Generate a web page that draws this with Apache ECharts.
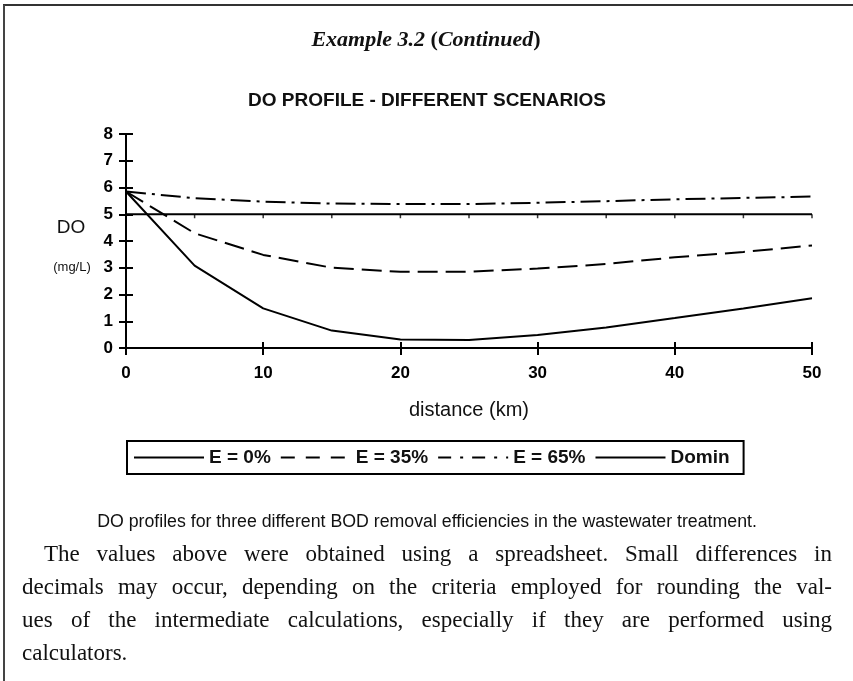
<!DOCTYPE html>
<html>
<head>
<meta charset="utf-8">
<script src="https://cdn.jsdelivr.net/npm/echarts@6/dist/echarts.min.js"></script>
<style>
  html, body { margin: 0; padding: 0; background: #fff; }
  #chart { width: 853px; height: 681px; }
</style>
</head>
<body>
<div id="chart"></div>
<script>
// Distance along the river (km) and dissolved oxygen (mg/L) for each scenario
const distance = [0, 5, 10, 15, 20, 25, 30, 35, 40, 45, 50];
const doE0  = [5.85, 3.08, 1.48, 0.65, 0.32, 0.30, 0.49, 0.77, 1.12, 1.48, 1.86];
const doE35 = [5.85, 4.29, 3.48, 3.00, 2.85, 2.85, 2.97, 3.14, 3.39, 3.59, 3.83];
const doE65 = [5.85, 5.60, 5.47, 5.40, 5.38, 5.38, 5.43, 5.49, 5.56, 5.61, 5.66];
const doMin = [5, 5, 5, 5, 5, 5, 5, 5, 5, 5, 5];

const seriesNames = ['E = 0%', 'E = 35%', 'E = 65%', 'Domin'];
const headerText = ['Example 3.2 ', '(', 'Continued', ')'];
const chartTitle = 'DO PROFILE - DIFFERENT SCENARIOS';
const yName = ['DO', '(mg/L)'];
const xName = 'distance (km)';
const caption = 'DO profiles for three different BOD removal efficiencies in the wastewater treatment.';
const paragraph = [
  'The values above were obtained using a spreadsheet. Small differences in',
  'decimals may occur, depending on the criteria employed for rounding the val-',
  'ues of the intermediate calculations, especially if they are performed using',
  'calculators.'
];

const SANS = '"Liberation Sans", Arial, Helvetica, sans-serif';
const SERIF = '"Liberation Serif", "Times New Roman", serif';

const pairs = arr => distance.map((d, i) => [d, arr[i]]);

// text measuring for the caption size and the justified paragraph
const mctx = document.createElement('canvas').getContext('2d');
function textWidth(text, font) { mctx.font = font; return mctx.measureText(text).width; }

const graphics = [];

// page frame: top rule and left rule
graphics.push({ type: 'line', silent: true, shape: { x1: 3, y1: 5, x2: 853, y2: 5 }, style: { stroke: '#333', lineWidth: 2 } });
graphics.push({ type: 'line', silent: true, shape: { x1: 4, y1: 5, x2: 4, y2: 681 }, style: { stroke: '#444', lineWidth: 2 } });

// header
graphics.push({
  type: 'text', x: 426, y: 40,
  style: {
    text: '{i|' + headerText[0] + '}{b|' + headerText[1] + '}{i|' + headerText[2] + '}{b|' + headerText[3] + '}',
    align: 'center', verticalAlign: 'middle',
    rich: {
      i: { fontFamily: SERIF, fontSize: 22, fontStyle: 'italic', fontWeight: 'bold', fill: '#111' },
      b: { fontFamily: SERIF, fontSize: 22, fontWeight: 'bold', fill: '#111' }
    }
  }
});

// chart title
graphics.push({
  type: 'text', x: 427, y: 101,
  style: { text: chartTitle, align: 'center', verticalAlign: 'middle', fontFamily: SANS, fontSize: 19, fontWeight: 'bold', fill: '#111' }
});

// y axis name
graphics.push({ type: 'text', x: 71, y: 228, style: { text: yName[0], align: 'center', verticalAlign: 'middle', fontFamily: SANS, fontSize: 19, fill: '#111' } });
graphics.push({ type: 'text', x: 72, y: 267, style: { text: yName[1], align: 'center', verticalAlign: 'middle', fontFamily: SANS, fontSize: 13, fill: '#111' } });

// caption, sized to span 660px
const capSize = Math.min(18, 10 * 660 / textWidth(caption, '10px ' + SANS));
graphics.push({
  type: 'text', x: 427, y: 522,
  style: { text: caption, align: 'center', verticalAlign: 'middle', fontFamily: SANS, fontSize: capSize, fill: '#111' }
});

// justified paragraph; font size chosen so the longest line fits
const paraY = [555, 588, 621, 654];
const paraLeft = [44, 22, 22, 22];
const paraRight = 832;
let fitRatio = Infinity;
paragraph.slice(0, 3).forEach((line, li) => {
  const w = textWidth(line, '10px ' + SERIF);
  fitRatio = Math.min(fitRatio, 0.985 * (paraRight - paraLeft[li]) / w);
});
const paraSize = Math.min(23, 10 * fitRatio);
const paraFont = paraSize + 'px ' + SERIF;
paragraph.forEach((line, li) => {
  const words = line.split(' ');
  const widths = words.map(w => textWidth(w, paraFont));
  const total = widths.reduce((a, b) => a + b, 0);
  const spaceW = textWidth(' ', paraFont);
  const last = li === paragraph.length - 1;
  const gap = (last || words.length < 2) ? spaceW : (paraRight - paraLeft[li] - total) / (words.length - 1);
  let x = paraLeft[li];
  words.forEach((w, wi) => {
    graphics.push({
      type: 'text', x: x, y: paraY[li],
      style: { text: w, align: 'left', verticalAlign: 'middle', fontFamily: SERIF, fontSize: paraSize, fill: '#111' }
    });
    x += widths[wi] + gap;
  });
});

const chart = echarts.init(document.getElementById('chart'), null, { renderer: 'canvas' });

const axisText = { color: '#000', fontFamily: SANS, fontSize: 17, fontWeight: 'bold' };
const axisLine = { show: true, lineStyle: { color: '#000', width: 2 } };

const dashE35 = [20, 8];
const dashE65 = [20, 6, 3, 6];

chart.setOption({
  animation: false,
  backgroundColor: '#fff',
  grid: { left: 126, top: 134, width: 686, height: 214, containLabel: false },
  xAxis: [
    {
      type: 'value', min: 0, max: 50, interval: 10, position: 'bottom',
      axisLine: axisLine,
      axisTick: { show: true, inside: false, length: 7, lineStyle: { color: '#000', width: 2 } },
      axisLabel: Object.assign({ margin: 17 }, axisText),
      splitLine: { show: false },
      name: xName, nameLocation: 'middle', nameGap: 52,
      nameTextStyle: { color: '#111', fontFamily: SANS, fontSize: 20 }
    },
    {
      type: 'value', min: 0, max: 50, interval: 10, position: 'bottom',
      axisLine: { show: false },
      axisTick: { show: true, inside: true, length: 6, lineStyle: { color: '#000', width: 2 } },
      axisLabel: { show: false },
      splitLine: { show: false }
    }
  ],
  yAxis: [
    {
      type: 'value', min: 0, max: 8, interval: 1, position: 'left',
      axisLine: axisLine,
      axisTick: { show: true, inside: false, length: 7, lineStyle: { color: '#000', width: 2 } },
      axisLabel: Object.assign({ margin: 13 }, axisText),
      splitLine: { show: false }
    },
    {
      type: 'value', min: 0, max: 8, interval: 1, position: 'left',
      axisLine: { show: false },
      axisTick: { show: true, inside: true, length: 7, lineStyle: { color: '#000', width: 2 } },
      axisLabel: { show: false },
      splitLine: { show: false }
    }
  ],
  legend: {
    data: [
      { name: seriesNames[0] },
      { name: seriesNames[1], lineStyle: { type: [14, 11] } },
      { name: seriesNames[2], lineStyle: { type: [13, 9, 3, 9] } },
      { name: seriesNames[3] }
    ],
    left: 127, top: 441,
    orient: 'horizontal',
    itemWidth: 70, itemHeight: 14, itemGap: 9,
    padding: [7, 14, 7, 6],
    borderColor: '#000', borderWidth: 2, borderRadius: 0,
    itemStyle: { opacity: 0 },
    textStyle: { color: '#111', fontFamily: SANS, fontSize: 19, fontWeight: 'bold' }
  },
  series: [
    {
      name: seriesNames[0], type: 'line', data: pairs(doE0), symbol: 'none',
      lineStyle: { color: '#000', width: 2, type: 'solid' }, itemStyle: { color: '#000' }
    },
    {
      name: seriesNames[1], type: 'line', data: pairs(doE35), symbol: 'none',
      lineStyle: { color: '#000', width: 2, type: dashE35 }, itemStyle: { color: '#000' }
    },
    {
      name: seriesNames[2], type: 'line', data: pairs(doE65), symbol: 'none',
      lineStyle: { color: '#000', width: 2, type: dashE65 }, itemStyle: { color: '#000' }
    },
    {
      name: seriesNames[3], type: 'line', data: pairs(doMin), symbol: 'none',
      lineStyle: { color: '#000', width: 2, type: 'solid' }, itemStyle: { color: '#000' }
    },
    {
      // small point marks along the minimum-DO line
      name: 'Domin points', type: 'scatter', data: pairs(doMin), silent: true,
      symbol: 'rect', symbolSize: [1.5, 4], symbolOffset: [0, 2],
      itemStyle: { color: '#000' }, z: 1
    }
  ],
  graphic: graphics
});
</script>
</body>
</html>
